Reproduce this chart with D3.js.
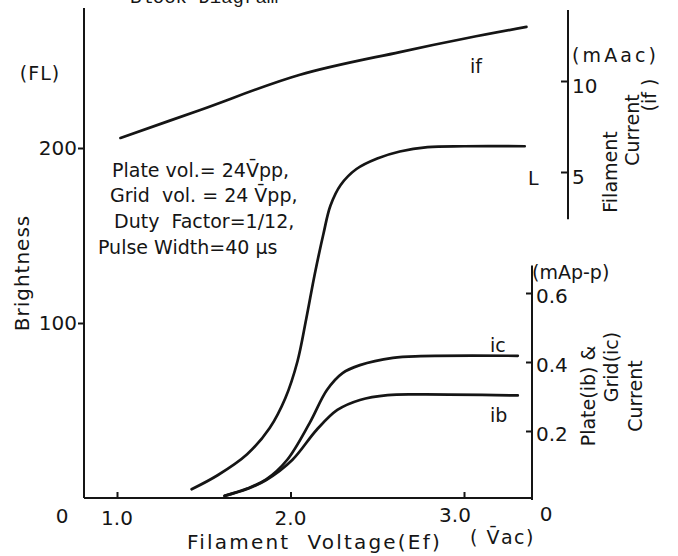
<!DOCTYPE html>
<html>
<head>
<meta charset="utf-8">
<script src="https://cdn.jsdelivr.net/npm/d3@7"></script>
<style>
body { margin: 0; background: #fff; }
svg { background: #fff; }
text { font-family: "DejaVu Sans", sans-serif; fill: #151515; }
.curve { fill: none; stroke: #151515; stroke-width: 2.7; stroke-linecap: round; }
.ax line, .ax path { stroke: #151515; stroke-width: 2; }
</style>
</head>
<body>
<svg width="678" height="556"></svg>
<script>
// values, x = filament voltage Ef (Vac)

// L : brightness (FL), left axis
var efL = [1.43, 1.58, 1.75, 1.88, 1.97, 2.04, 2.09, 2.14, 2.19, 2.23, 2.29, 2.38, 2.50, 2.63, 2.79, 3.00, 3.35];
var brightL = [5, 13, 25, 40, 57, 78, 102, 128, 151, 167, 179, 188, 194, 198, 200.5, 201, 201];

// if : filament current (mAac), upper right axis
var efIf = [1.02, 1.48, 2.05, 2.63, 3.02, 3.36];
var currIf = [6.87, 8.41, 10.33, 11.59, 12.36, 12.97];

// ic : grid current (mAp-p), lower right axis
var efIc = [1.62, 1.75, 1.86, 1.98, 2.11, 2.21, 2.30, 2.40, 2.59, 2.75, 3.31];
var currIc = [0.012, 0.033, 0.060, 0.116, 0.223, 0.319, 0.368, 0.391, 0.412, 0.417, 0.418];

// ib : plate current (mAp-p), lower right axis
var efIb = [1.62, 1.75, 1.86, 2.01, 2.15, 2.27, 2.40, 2.56, 2.75, 3.31];
var currIb = [0.012, 0.032, 0.058, 0.116, 0.203, 0.261, 0.290, 0.304, 0.306, 0.303];

var xTicks = [1, 2, 3];
var xTickLabels = ["1.0", "2.0", "3.0"];
var brightTicks = [100, 200];
var ifTicks = [5, 10];
var icTicks = [0.2, 0.4, 0.6];

var svg = d3.select("svg");

var x = d3.scaleLinear().domain([1, 3]).range([117, 464]);
var yB = d3.scaleLinear().domain([0, 200]).range([498, 148]);
var yF = d3.scaleLinear().domain([5, 10]).range([172, 81]);
var yI = d3.scaleLinear().domain([0, 0.6]).range([500, 293]);

var xLeft = x.invert(84), xRight = x.invert(532);

// ---- axes ----
// brightness axis (left)
var gL = svg.append("g").attr("class", "ax")
  .attr("transform", "translate(" + x(xLeft) + ",0)")
  .call(d3.axisLeft(yB).tickValues(brightTicks).tickSize(6).tickFormat(""));
gL.select(".domain").remove();
gL.append("line").attr("y1", yB(0)).attr("y2", yB(280));

// voltage axis (bottom)
var gB = svg.append("g").attr("class", "ax")
  .attr("transform", "translate(0," + yB(0) + ")")
  .call(d3.axisBottom(x).tickValues(xTicks).tickSize(-6).tickFormat(""));
gB.select(".domain").remove();
gB.append("line").attr("x1", x(xLeft)).attr("x2", x(xRight));

// plate & grid current axis (lower right)
var gI = svg.append("g").attr("class", "ax")
  .attr("transform", "translate(" + x(xRight) + ",0)")
  .call(d3.axisRight(yI).tickValues(icTicks).tickSize(-6).tickFormat(""));
gI.select(".domain").remove();
gI.append("line").attr("y1", yI(0)).attr("y2", yI(0.68));

// filament current axis (upper right)
var gF = svg.append("g").attr("class", "ax")
  .attr("transform", "translate(568,0)")
  .call(d3.axisRight(yF).tickValues(ifTicks).tickSize(-7).tickFormat(""));
gF.select(".domain").remove();
gF.append("line").attr("y1", yF(2.4)).attr("y2", yF(13.9));

// ---- tick labels ----
svg.selectAll(".tb").data(brightTicks).enter().append("text")
  .attr("x", x(xLeft) - 7).attr("y", function(d) { return yB(d); })
  .attr("dy", "0.36em").attr("text-anchor", "end").style("font-size", "20px")
  .text(function(d) { return d; });

svg.selectAll(".tx").data(xTicks).enter().append("text")
  .attr("x", function(d, i) { return x(d) + (i == 2 ? -9 : 0); })
  .attr("y", function(d, i) { return yB(0) + (i == 2 ? 24 : 27); })
  .attr("text-anchor", "middle").style("font-size", "20px")
  .text(function(d, i) { return xTickLabels[i]; });

svg.selectAll(".tf").data(ifTicks).enter().append("text")
  .attr("x", 572).attr("y", function(d) { return yF(d) + 5; })
  .attr("dy", "0.36em").style("font-size", "20px")
  .text(function(d) { return d; });

svg.selectAll(".ti").data(icTicks).enter().append("text")
  .attr("x", x(xRight) + 4).attr("y", function(d) { return yI(d) + 3; })
  .attr("dy", "0.36em").style("font-size", "20px")
  .text(function(d) { return d.toFixed(1); });

svg.append("text").attr("x", 62).attr("y", 523).attr("text-anchor", "middle")
  .style("font-size", "20px").text("0");
svg.append("text").attr("x", 546).attr("y", 521).attr("text-anchor", "middle")
  .style("font-size", "20px").text("0");

// ---- axis titles ----
// title of the page above, cut off by the scan
svg.append("text").attr("x", 130).attr("y", 3)
  .style("font-family", "'Liberation Mono', monospace").style("font-size", "19px")
  .text("Block Diagram");

svg.append("text").attr("x", 40).attr("y", 80).attr("text-anchor", "middle")
  .style("font-size", "19px").style("letter-spacing", "1px").text("(FL)");

svg.append("text").attr("transform", "translate(29,273) rotate(-90)")
  .attr("text-anchor", "middle").style("font-size", "20px").style("letter-spacing", "1px")
  .text("Brightness");

svg.append("text").attr("x", 187).attr("y", 549)
  .style("font-size", "20px").style("letter-spacing", "2.2px").style("white-space", "pre")
  .text("Filament  Voltage(Ef)");
svg.append("text").attr("x", 470).attr("y", 544)
  .style("font-size", "19px").style("letter-spacing", "1.5px")
  .text("( V\u0304ac)");

svg.append("text").attr("x", 572).attr("y", 62)
  .style("font-size", "19px").attr("textLength", 84).attr("lengthAdjust", "spacing")
  .text("(mAac)");
svg.append("text").attr("x", 532).attr("y", 279)
  .style("font-size", "19px").text("(mAp-p)");

var rightF = [["Filament", 617, 172], ["Current", 639, 130], ["(if )", 656, 95]];
rightF.forEach(function(r) {
  svg.append("text").attr("transform", "translate(" + r[1] + "," + r[2] + ") rotate(-90)")
    .attr("text-anchor", "middle").style("font-size", "19px").text(r[0]);
});
var rightI = [["Plate(ib) &", 595, 396], ["Grid(ic)", 618, 367], ["Current", 642, 396]];
rightI.forEach(function(r) {
  svg.append("text").attr("transform", "translate(" + r[1] + "," + r[2] + ") rotate(-90)")
    .attr("text-anchor", "middle").style("font-size", "19px").text(r[0]);
});

// ---- conditions note ----
var note = [["Plate vol.= 24V\u0304pp,", 112, 177], ["Grid  vol. = 24 V\u0304pp,", 110, 202],
            [" Duty  Factor=1/12,", 108, 228], ["Pulse Width=40 \u03bcs", 98, 254]];
note.forEach(function(n) {
  svg.append("text").attr("x", n[1]).attr("y", n[2])
    .style("font-size", "19px").style("white-space", "pre").text(n[0]);
});

// ---- curves ----
var line = function(xs, ys, yScale) {
  return d3.line().curve(d3.curveCatmullRom.alpha(0.5))
    .x(function(d, i) { return x(xs[i]); })
    .y(function(d, i) { return yScale(ys[i]); })(xs);
};
svg.append("path").attr("class", "curve").attr("d", line(efIf, currIf, yF));
svg.append("path").attr("class", "curve").attr("d", line(efL, brightL, yB));
svg.append("path").attr("class", "curve").attr("d", line(efIc, currIc, yI));
svg.append("path").attr("class", "curve").attr("d", line(efIb, currIb, yI));

// curve names
var names = [["if", 470, 73], ["L", 528, 185], ["ic", 490, 352], ["ib", 490, 422]];
names.forEach(function(n) {
  svg.append("text").attr("x", n[1]).attr("y", n[2]).style("font-size", "19px").text(n[0]);
});
</script>
</body>
</html>
